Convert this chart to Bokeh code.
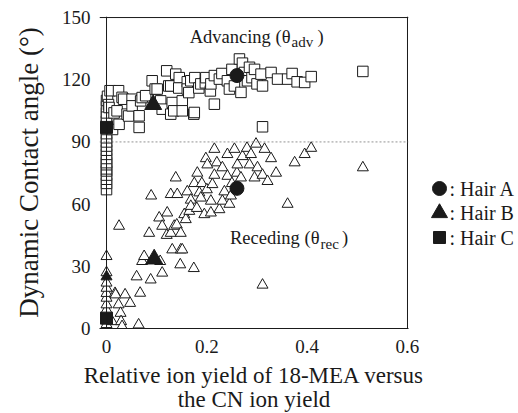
from bokeh.plotting import figure
from bokeh.layouts import row
from bokeh.models import Label, Span, FixedTicker, Range1d
from bokeh.embed import file_html
from bokeh.resources import INLINE

# ---------------- data ----------------
adv_x = [0, 0, 0, 0, 0, 0, 0, 0, 0, 0, 0, 0, 0, 0, 0, 0, 0, 0, 0, 0, 0, 0, 0.002,
         0.004, 0.005, 0.007, 0.012, 0.015, 0.021, 0.024, 0.025, 0.031, 0.034, 0.041,
         0.044, 0.051, 0.051, 0.065, 0.065, 0.068, 0.071, 0.078, 0.091, 0.097, 0.101,
         0.108, 0.111, 0.12, 0.124, 0.128, 0.128, 0.131, 0.134, 0.138, 0.145, 0.144,
         0.151, 0.151, 0.161, 0.161, 0.164, 0.168, 0.174, 0.175, 0.176, 0.184, 0.188,
         0.197, 0.198, 0.207, 0.208, 0.215, 0.215, 0.225, 0.23, 0.241, 0.245, 0.25,
         0.255, 0.265, 0.268, 0.271, 0.275, 0.281, 0.285, 0.29, 0.295, 0.3, 0.308,
         0.311, 0.311, 0.328, 0.341, 0.361, 0.37, 0.38, 0.395, 0.408, 0.511]
adv_y = [67, 70, 72, 74, 76, 77, 79, 80, 82, 84, 86, 88, 90, 92, 94, 96, 98, 100, 102, 104, 107, 110, 112,
         108, 106.6, 114.7, 96, 104, 105, 114.7, 98.5, 111.5, 110.6, 103.4,
         102.5, 110.6, 107.4, 102.6, 97, 109.8, 111.4, 112.3, 119.5, 115.5, 115.5,
         109.8, 105.8, 124.3, 117, 117, 103.4, 109, 105, 122.7, 121, 116,
         109.8, 105, 119, 115.5, 113.8, 119.5, 103.4, 104.2, 121, 116, 118,
         118.5, 121, 114.6, 118, 108.2, 122, 120.3, 123, 119.5, 115.5, 125,
         117, 130, 113.9, 128, 123.5, 119.5, 126, 121, 125, 118, 122.7,
         117, 97.3, 123.5, 120.3, 120.3, 123, 119, 118.7, 121.5, 124]

rec_x = [0, 0, 0, 0, 0, 0, 0, 0, 0, 0, 0, 0,
         0.008, 0.011, 0.017, 0.018, 0.024, 0.025, 0.028, 0.029, 0.031, 0.037, 0.047,
         0.06, 0.064, 0.067, 0.071, 0.075, 0.085, 0.088, 0.089, 0.107, 0.105, 0.111,
         0.111, 0.121, 0.12, 0.128, 0.128, 0.131, 0.135, 0.138, 0.14, 0.141, 0.147,
         0.148, 0.148, 0.151, 0.155, 0.158, 0.161, 0.165, 0.168, 0.168, 0.174, 0.175,
         0.18, 0.181, 0.185, 0.188, 0.19, 0.195, 0.198, 0.2, 0.201, 0.208, 0.208,
         0.211, 0.215, 0.215, 0.22, 0.225, 0.231, 0.231, 0.235, 0.241, 0.241, 0.245,
         0.248, 0.25, 0.255, 0.26, 0.261, 0.268, 0.271, 0.28, 0.285, 0.288, 0.295,
         0.298, 0.301, 0.311, 0.315, 0.311, 0.321, 0.328, 0.338, 0.361, 0.375, 0.395,
         0.408, 0.511]
rec_y = [0, 2, 4, 6.5, 9, 11.5, 14.7, 17, 19.5, 22, 27, 34.8,
         4.2, 3.4, 17, 16.3, 11.5, 49.4, 7.4, 3.4, 1, 16.3, 12.2,
         25, 1.8, 17.1, 32.4, 34.8, 46, 23.5, 64, 32.4, 53.4, 49.4,
         26.8, 55.8, 45, 64.7, 46, 38, 49.4, 72.7, 50, 64.7, 30.8,
         46, 38, 38, 55, 52.6, 66, 56.6, 62, 59, 29, 70,
         58, 75, 65.5, 63, 70, 55, 82, 67, 79, 61.5, 55.8,
         69.5, 86.5, 74, 80, 57.4, 77.6, 61.5, 66, 84, 73.5, 60,
         64, 70, 86.5, 75, 79, 72.7, 83, 87, 79, 84, 72.7,
         89, 77.6, 74, 86.5, 21, 71, 82, 75, 60, 80, 84,
         87, 77.6]

hairA_x = [0.26, 0.26]
hairA_y = [122, 67.6]
hairB_x = [0.093, 0.095]
hairB_y = [108, 33.5]
hairB0_x = [0.0]
hairB0_y = [25]
hairC_x = [0.0, 0.0]
hairC_y = [97, 5]

legend_labels = [": Hair A", ": Hair B", ": Hair C"]
x_ticks = [0, 0.2, 0.4, 0.6]
x_tick_labels = ["0", "0.2", "0.4", "0.6"]
y_ticks = [0, 30, 60, 90, 120, 150]
ref_angle = 90

FONT = "Liberation Serif"
INK = "#1a1a1a"

p = figure(frame_width=309, frame_height=312,
           min_border_left=99, min_border_right=20, min_border_top=16, min_border_bottom=83,
           x_range=Range1d(-0.014, 0.602), y_range=Range1d(0, 150.5),
           output_backend="svg", toolbar_location=None, tools="")
p.outline_line_color = None
p.background_fill_color = "white"
p.border_fill_color = "white"
p.xgrid.visible = False
p.ygrid.visible = False

for ax in (p.xaxis[0], p.yaxis[0]):
    ax.major_tick_in = 0
    ax.major_tick_out = 0
    ax.minor_tick_in = 0
    ax.minor_tick_out = 0
    ax.major_label_text_font = FONT
    ax.major_label_text_font_size = "19px"
    ax.major_label_text_color = INK
    ax.axis_label_text_font = FONT
    ax.axis_label_text_font_style = "normal"
    ax.axis_label_text_color = INK

xa = p.xaxis[0]
xa.ticker = FixedTicker(ticks=x_ticks)
xa.major_label_overrides = {t: l for t, l in zip(x_ticks, x_tick_labels)}
xa.axis_line_color = INK
xa.axis_line_width = 1
xa.major_label_standoff = 11
xa.axis_label = "Relative ion yield of 18-MEA versus\nthe CN ion yield"
xa.axis_label_text_font_size = "23px"
xa.axis_label_text_line_height = 0.98
xa.axis_label_standoff = 7

ya = p.yaxis[0]
ya.ticker = FixedTicker(ticks=y_ticks)
ya.axis_line_color = None
ya.major_label_standoff = 9
ya.axis_label = "Dynamic Contact angle (°)"
ya.axis_label_text_font_size = "27px"
ya.axis_label_standoff = 15

# frame lines
p.add_layout(Span(location=0, dimension="height", line_color=INK, line_width=1))
p.add_layout(Span(location=0.6, dimension="height", line_color=INK, line_width=1))
p.add_layout(Span(location=150, dimension="width", line_color=INK, line_width=1))
p.add_layout(Span(location=ref_angle, dimension="width", line_color="#777777",
                  line_width=0.8, line_dash="2 2"))

# data
p.scatter(adv_x, adv_y, marker="square", size=10.5, fill_color="white",
          line_color=INK, line_width=1)
p.scatter(rec_x, rec_y, marker="triangle", size=11, fill_color="white",
          line_color=INK, line_width=1)
p.scatter(hairB0_x, hairB0_y, marker="triangle", size=11, fill_color=INK, line_color=INK)
p.scatter(hairA_x, hairA_y, marker="circle", size=14, fill_color=INK, line_color=INK)
p.scatter(hairB_x, hairB_y, marker="triangle", size=17, fill_color=INK, line_color=INK)
p.scatter(hairC_x, hairC_y, marker="square", size=12, fill_color=INK, line_color=INK)


def lab(fig, x, y, text, size, align="left", baseline="alphabetic"):
    fig.add_layout(Label(x=x, y=y, text=text, text_font=FONT, text_font_size=size,
                         text_color=INK, text_align=align, text_baseline=baseline))


# in-plot annotations
lab(p, 0.3668, 140.6, "Advancing (θ", "18.5px", align="right")
lab(p, 0.3687, 138.0, "adv", "15px")
lab(p, 0.4206, 140.6, ")", "18.5px")
lab(p, 0.4246, 43.5, "Receding (θ", "18.5px", align="right")
lab(p, 0.4266, 40.9, "rec", "15px")
lab(p, 0.4694, 43.5, ")", "18.5px")

# legend panel to the right; its frame is aligned with the main frame,
# coordinates are page pixels (y downward)
q = figure(frame_width=88, frame_height=312, x_range=Range1d(0, 88), y_range=Range1d(328, 16),
           x_axis_location=None, y_axis_location=None, title=None,
           min_border_left=0, min_border_right=0, min_border_top=16, min_border_bottom=83,
           output_backend="svg", toolbar_location=None, tools="")
q.grid.visible = False
q.outline_line_color = None
q.background_fill_color = "white"
q.border_fill_color = "white"
leg_x = [11, 11, 11]
leg_y = [188, 212.5, 237]
q.scatter(leg_x[0:1], leg_y[0:1], marker="circle", size=14, fill_color=INK, line_color=INK)
q.scatter(leg_x[1:2], leg_y[1:2], marker="triangle", size=16, fill_color=INK, line_color=INK)
q.scatter(leg_x[2:3], leg_y[2:3], marker="square", size=12, fill_color=INK, line_color=INK)
for yy, t in zip(leg_y, legend_labels):
    lab(q, 21, yy, t, "20px", baseline="middle")

layout = row(p, q, spacing=0)
open("out.html", "w").write(file_html(layout, INLINE))
